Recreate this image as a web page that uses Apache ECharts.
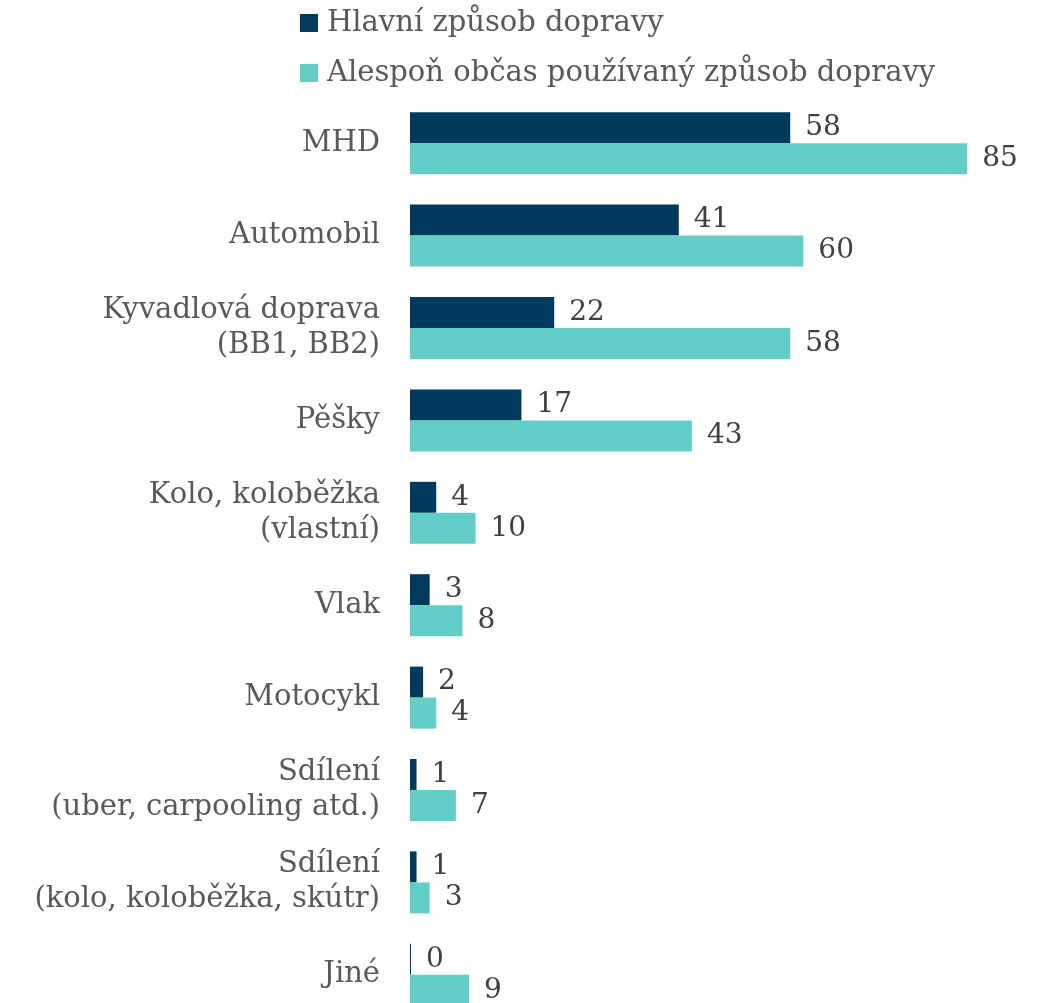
<!DOCTYPE html>
<html>
<head>
<meta charset="utf-8">
<script src="https://cdn.jsdelivr.net/npm/echarts@6/dist/echarts.min.js"></script>
<style>
html, body { margin: 0; padding: 0; background: #fff; }
#chart { width: 1046px; height: 1003px; }
</style>
</head>
<body>
<div id="chart"></div>
<script>
// data
var categories = ['MHD', 'Automobil', 'Kyvadlová doprava\n(BB1, BB2)', 'Pěšky', 'Kolo, koloběžka\n(vlastní)',
  'Vlak', 'Motocykl', 'Sdílení\n(uber, carpooling atd.)', 'Sdílení\n(kolo, koloběžka, skútr)', 'Jiné']
var mainValues = [58, 41, 22, 17, 4, 3, 2, 1, 1, 0]
var sometimesValues = [85, 60, 58, 43, 10, 8, 4, 7, 3, 9]
var seriesNames = ['Hlavní způsob dopravy', 'Alespoň občas používaný způsob dopravy']

var myChart = echarts.init(document.getElementById('chart'))
var font = 'DejaVu Serif'

myChart.setOption({
  animation: false,
  legend: {
    orient: 'vertical',
    left: 300,
    top: 8,
    padding: 0,
    icon: 'rect',
    itemWidth: 18,
    itemHeight: 18,
    itemGap: 20,
    textStyle: {
      fontFamily: font,
      fontSize: 29,
      color: '#595959',
      lineHeight: 30,
      padding: [0, 0, 0, 4]
    },
    data: seriesNames
  },
  grid: {
    left: 410,
    right: 46,
    top: 97,
    height: 924,
    outerBoundsMode: 'none',
    containLabel: false
  },
  xAxis: {
    type: 'value',
    min: 0,
    max: 90,
    show: false
  },
  yAxis: {
    type: 'category',
    inverse: true,
    data: categories,
    axisLine: { show: false },
    axisTick: { show: false },
    axisLabel: {
      margin: 30,
      fontFamily: font,
      fontSize: 29,
      lineHeight: 35,
      color: '#595959',
      align: 'right'
    }
  },
  series: [
    {
      name: seriesNames[0],
      type: 'bar',
      data: mainValues,
      barWidth: 31,
      barGap: '0%',
      barMinHeight: 1,
      itemStyle: { color: '#003A5D' },
      label: {
        show: true,
        position: 'right',
        distance: 15,
        fontFamily: font,
        fontSize: 28,
        color: '#404040'
      }
    },
    {
      name: seriesNames[1],
      type: 'bar',
      data: sometimesValues,
      barWidth: 31,
      barGap: '0%',
      itemStyle: { color: '#63CEC8' },
      label: {
        show: true,
        position: 'right',
        distance: 15,
        fontFamily: font,
        fontSize: 28,
        color: '#404040'
      }
    }
  ]
})
</script>
</body>
</html>
